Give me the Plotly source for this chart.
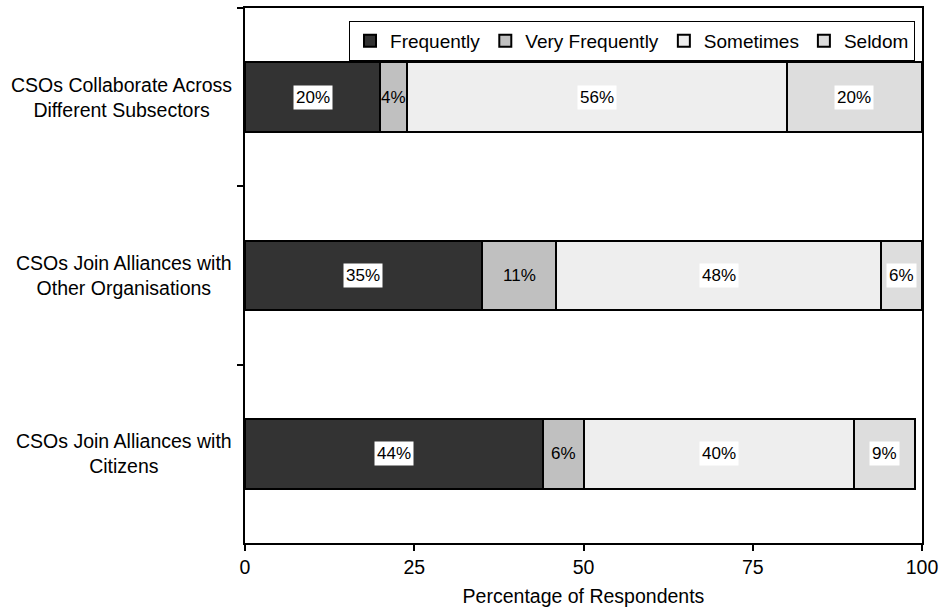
import plotly.graph_objects as go

# Survey statements (top to bottom)
categories = [
    "CSOs Collaborate Across<br>Different Subsectors",
    "CSOs Join Alliances with<br>Other Organisations",
    "CSOs Join Alliances with<br>Citizens",
]

# Share of respondents per answer (%)
series_names = ["Frequently", "Very Frequently", "Sometimes", "Seldom"]
frequently = [20, 35, 44]
very_frequently = [4, 11, 6]
sometimes = [56, 48, 40]
seldom = [20, 6, 9]

series_values = [frequently, very_frequently, sometimes, seldom]
series_colors = ["#333333", "#c0c0c0", "#eeeeee", "#dddddd"]
label_backgrounds = ["white", None, "white", "white"]

x_ticks = [0, 25, 50, 75, 100]

FONT = "Liberation Sans, Arial, sans-serif"
AXIS_SIZE = 19.5

fig = go.Figure()
for name, vals, color in zip(series_names, series_values, series_colors):
    fig.add_trace(go.Bar(
        name=name,
        x=vals,
        y=categories,
        orientation="h",
        marker=dict(color=color, line=dict(color="black", width=2)),
        hoverinfo="x+name",
    ))

# Value labels centred in each segment
annotations = []
offsets = [0] * len(categories)
for vals, bg in zip(series_values, label_backgrounds):
    for i, (cat, v) in enumerate(zip(categories, vals)):
        annotations.append(dict(
            x=offsets[i] + v / 2, y=cat, xref="x", yref="y",
            text=f"{v}%", showarrow=False,
            font=dict(family=FONT, size=17, color="black"),
            bgcolor=bg if bg else "rgba(0,0,0,0)",
            borderpad=2,
        ))
        offsets[i] += v

# Category labels, each block centred and right-aligned against the axis
for cat in categories:
    annotations.append(dict(
        x=0, y=cat, xref="paper", yref="y",
        xanchor="right", xshift=-11,
        text=cat, align="center", showarrow=False,
        font=dict(family=FONT, size=AXIS_SIZE, color="black"),
    ))

fig.update_layout(
    barmode="stack",
    bargap=0.61,
    width=941, height=610,
    margin=dict(l=245, r=19, t=8, b=67),
    paper_bgcolor="white",
    plot_bgcolor="white",
    font=dict(family=FONT, size=AXIS_SIZE, color="black"),
    showlegend=True,
    legend=dict(
        orientation="h",
        x=0.9897, xanchor="right",
        y=0.976, yanchor="top",
        bgcolor="white",
        bordercolor="black",
        borderwidth=1,
        font=dict(family=FONT, size=19, color="black"),
        traceorder="normal",
    ),
    xaxis=dict(
        range=[0, 100],
        tickvals=x_ticks,
        ticktext=[str(t) for t in x_ticks],
        ticks="outside", ticklen=6, tickwidth=1.5, tickcolor="black",
        showline=True, linecolor="black", linewidth=1.5, mirror=True,
        showgrid=False, zeroline=False,
        title=dict(text="Percentage of Respondents", standoff=12,
                   font=dict(family=FONT, size=AXIS_SIZE)),
        tickfont=dict(family=FONT, size=AXIS_SIZE),
        automargin=False,
    ),
    yaxis=dict(
        type="category",
        categoryorder="array", categoryarray=categories,
        range=[2.5, -0.5],
        tickson="boundaries",
        ticks="outside", ticklen=6, tickwidth=1.5, tickcolor="black",
        showticklabels=False,
        showline=True, linecolor="black", linewidth=1.5, mirror=True,
        showgrid=False, zeroline=False,
    ),
    annotations=annotations,
)

fig.write_html("out.html")
